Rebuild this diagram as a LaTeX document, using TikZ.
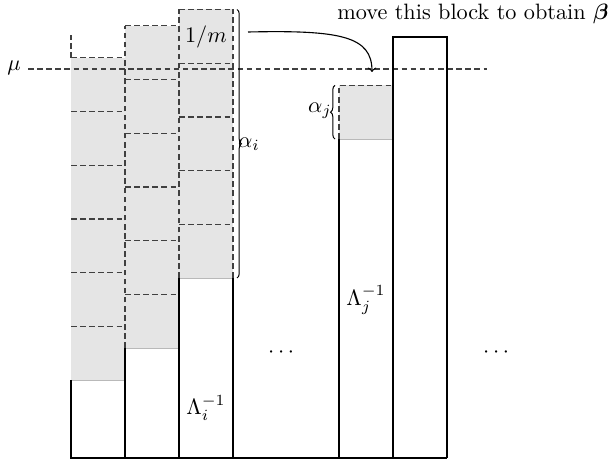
\documentclass[tikz,border=0pt]{standalone}
\usepackage{amsmath}
\usepackage{bm}
\usetikzlibrary{decorations.pathreplacing}
\begin{document}
\begin{tikzpicture}[x=0.45pt, y=0.45pt,
    blockline/.style={draw=black!75, dash pattern=on 2.5pt off 1.6pt, line width=0.55pt},
    barline/.style={draw=black, line width=0.5pt},
    topline/.style={draw=gray!55, line width=0.4pt},
    bracebar/.style={decorate, decoration={brace, amplitude=2pt}, line width=0.45pt}]
    \useasboundingbox (0,0) rectangle (610,464);
    \def\h{53.7}

    % Water filled blocks
    \fill[gray!20] (71,84) rectangle (125,84+6*\h);
    \fill[gray!20] (125,116) rectangle (179,116+6*\h);
    \fill[gray!20] (179,186) rectangle (233,186+5*\h);
    \fill[gray!20] (339,325) rectangle (393,325+\h);

    % Tops of the bars under the blocks
    \draw[topline] (71,84) -- (125,84);
    \draw[topline] (125,116) -- (179,116);
    \draw[topline] (179,186) -- (233,186);
    \draw[topline] (339,325) -- (393,325);

    % Dashed block edges
    \foreach \k in {1,...,6} \draw[blockline] (71,84+\k*\h) -- (125,84+\k*\h);
    \foreach \k in {1,...,6} \draw[blockline] (125,116+\k*\h) -- (179,116+\k*\h);
    \foreach \k in {1,...,5} \draw[blockline] (179,186+\k*\h) -- (233,186+\k*\h);
    \draw[blockline] (71,84+6*\h) -- (71,429);
    \draw[blockline] (125,116) -- (125,116+6*\h);
    \draw[blockline] (179,186) -- (179,186+5*\h);
    \draw[blockline] (233,186) -- (233,186+5*\h);
    \draw[blockline] (339,325) -- (339,325+\h) -- (393,325+\h);

    % Water level
    \draw[blockline] (28,395) -- (487,395);
    \node (mu) at (14,396) {$\mu$};

    % Bars
    \draw[barline] (71,84) -- (71,6) -- (447,6);
    \draw[barline] (125,6) -- (125,116);
    \draw[barline] (179,6) -- (179,186);
    \draw[barline] (233,6) -- (233,186);
    \draw[barline] (339,6) -- (339,325);
    \draw[barline, line width=0.8pt] (393,6) -- (393,427) -- (447,427) -- (447,6);

    % Labels
    \node (onem) at (206,427) {$1/m$};
    \node (lami) at (206,56) {$\Lambda_i^{-1}$};
    \node (lamj) at (366,164) {$\Lambda_j^{-1}$};
    \node (dotsa) at (283,111) {$\cdots$};
    \node (dotsb) at (498,111) {$\cdots$};

    % Braces
    \draw[bracebar] (237,186+5*\h) -- (237,186);
    \node (alphai) at (249,320) {$\alpha_i$};
    \draw[bracebar] (335,325) -- (335,325+\h);
    \node (alphaj) at (320,353) {$\alpha_j$};

    % Move the block
    \node (note) at (473,450) {move this block to obtain $\bm{\beta}$};
    \coordinate (from) at (248,432);
    \coordinate (to) at (372,392);
    \draw[->, line width=0.5pt] (from) .. controls (340,434) and (372,428) .. (to);
\end{tikzpicture}
\end{document}
